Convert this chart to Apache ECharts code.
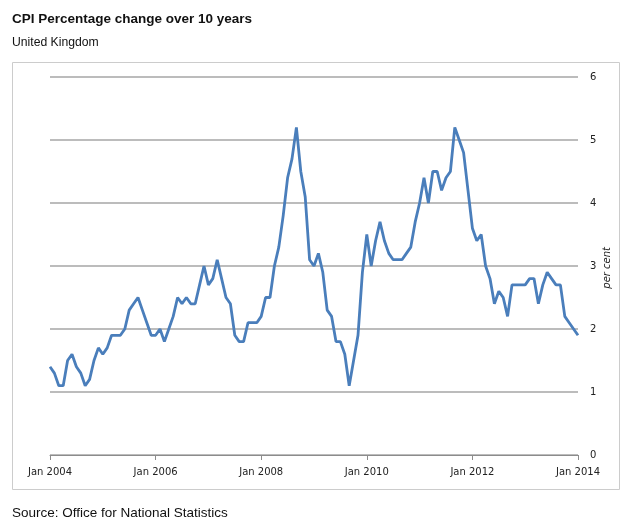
<!DOCTYPE html>
<html>
<head>
<meta charset="utf-8">
<script src="https://cdn.jsdelivr.net/npm/echarts@6/dist/echarts.min.js"></script>
<style>html,body{margin:0;padding:0;background:#fff}#c{width:634px;height:525px}</style>
</head>
<body>
<div id="c"></div>
<script>
var months = ['Jan','Feb','Mar','Apr','May','Jun','Jul','Aug','Sep','Oct','Nov','Dec'];
var years = [2004,2005,2006,2007,2008,2009,2010,2011,2012,2013,2014];
var cpi2004 = [1.4,1.3,1.1,1.1,1.5,1.6,1.4,1.3,1.1,1.2,1.5,1.7];
var cpi2005 = [1.6,1.7,1.9,1.9,1.9,2.0,2.3,2.4,2.5,2.3,2.1,1.9];
var cpi2006 = [1.9,2.0,1.8,2.0,2.2,2.5,2.4,2.5,2.4,2.4,2.7,3.0];
var cpi2007 = [2.7,2.8,3.1,2.8,2.5,2.4,1.9,1.8,1.8,2.1,2.1,2.1];
var cpi2008 = [2.2,2.5,2.5,3.0,3.3,3.8,4.4,4.7,5.2,4.5,4.1,3.1];
var cpi2009 = [3.0,3.2,2.9,2.3,2.2,1.8,1.8,1.6,1.1,1.5,1.9,2.9];
var cpi2010 = [3.5,3.0,3.4,3.7,3.4,3.2,3.1,3.1,3.1,3.2,3.3,3.7];
var cpi2011 = [4.0,4.4,4.0,4.5,4.5,4.2,4.4,4.5,5.2,5.0,4.8,4.2];
var cpi2012 = [3.6,3.4,3.5,3.0,2.8,2.4,2.6,2.5,2.2,2.7,2.7,2.7];
var cpi2013 = [2.7,2.8,2.8,2.4,2.7,2.9,2.8,2.7,2.7,2.2,2.1,2.0];
var cpi2014 = [1.9];
var yTicks = [0,1,2,3,4,5,6];

var series = [].concat(cpi2004,cpi2005,cpi2006,cpi2007,cpi2008,cpi2009,cpi2010,cpi2011,cpi2012,cpi2013,cpi2014);
var cats = [];
years.forEach(function(y){ months.forEach(function(m){ cats.push(m+' '+y); }); });
cats = cats.slice(0, series.length);

var chart = echarts.init(document.getElementById('c'));
chart.setOption({
  animation: false,
  backgroundColor: '#fff',
  title: [
    {text: 'CPI Percentage change over 10 years', left: 12, top: 12, padding: 0,
     textStyle: {fontFamily: 'Liberation Sans, Arial, sans-serif', fontSize: 13.5, fontWeight: 'bold', color: '#111'}},
    {text: 'United Kingdom', left: 12, top: 37, padding: 0,
     textStyle: {fontFamily: 'Liberation Sans, Arial, sans-serif', fontSize: 12.2, fontWeight: 'normal', color: '#111'}},
    {text: 'Source: Office for National Statistics', left: 12, top: 506, padding: 0,
     textStyle: {fontFamily: 'Liberation Sans, Arial, sans-serif', fontSize: 13.5, fontWeight: 'normal', color: '#111'}}
  ],
  graphic: [
    {type: 'rect', shape: {x: 12.5, y: 62.5, width: 607, height: 427}, style: {fill: 'none', stroke: '#cccccc', lineWidth: 1}, silent: true, z: -1},
    {type: 'text', left: 602, top: 247, rotation: Math.PI/2, style: {text: 'per cent', font: 'italic 10px "DejaVu Sans", sans-serif', fill: '#222'}}
  ],
  grid: {left: 50, right: 56, top: 77, bottom: 70},
  xAxis: {
    type: 'category', data: cats, boundaryGap: false,
    axisLine: {lineStyle: {color: '#8c8c8c', width: 1}},
    axisTick: {alignWithLabel: true, length: 5, lineStyle: {color: '#8c8c8c'}, interval: function(i){ return i % 24 === 0; }},
    axisLabel: {interval: function(i){ return i % 24 === 0; }, margin: 12, color: '#222',
      fontFamily: 'DejaVu Sans, sans-serif', fontSize: 10},
    splitLine: {show: false}
  },
  yAxis: {
    type: 'value', position: 'right', min: yTicks[0], max: yTicks[yTicks.length-1], interval: 1,
    axisLine: {show: false},
    axisTick: {show: false},
    axisLabel: {margin: 12, color: '#222', fontFamily: 'DejaVu Sans, sans-serif', fontSize: 10},
    splitLine: {lineStyle: {color: '#a6a6a6', width: 1.5}}
  },
  series: [{
    type: 'line', data: series, showSymbol: false, symbol: 'none',
    lineStyle: {color: '#4a7ebb', width: 2.8}
  }]
});
</script>
</body>
</html>
